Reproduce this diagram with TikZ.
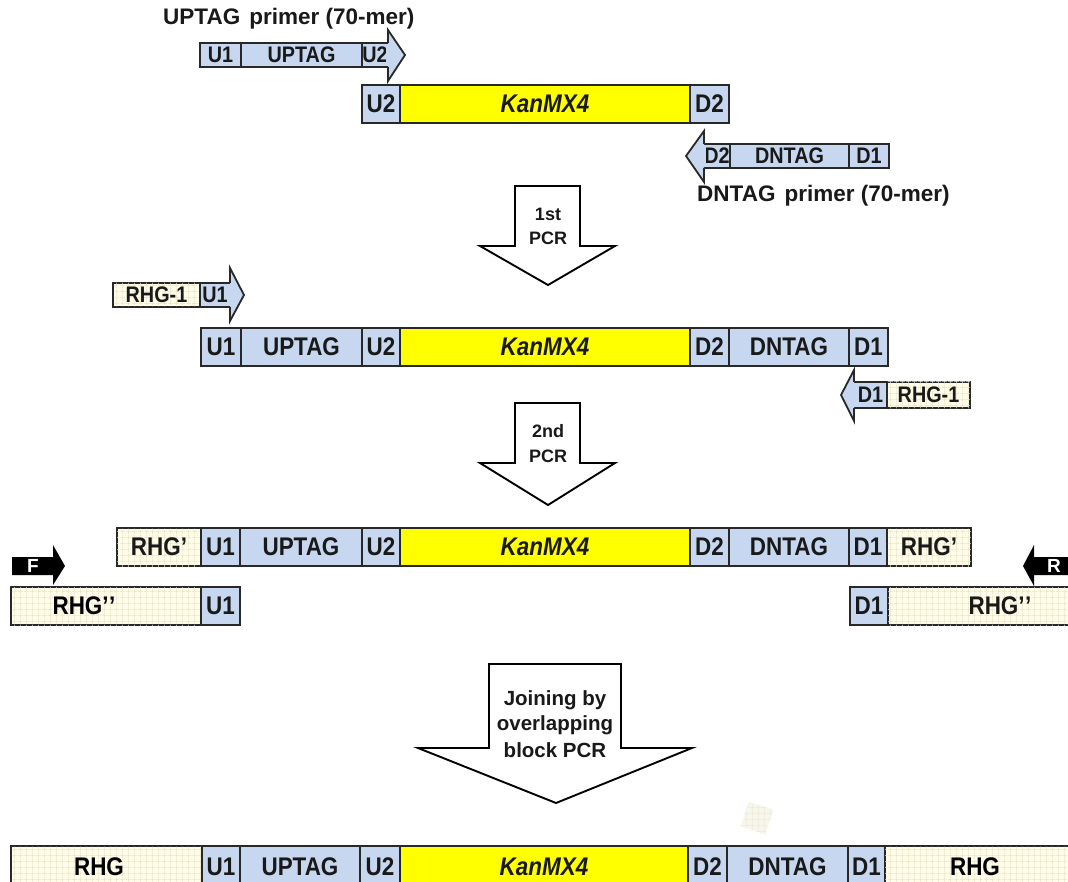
\documentclass[tikz,border=0pt]{standalone}
\usepackage{fontspec}
\setmainfont{Liberation Sans}
\newfontfamily\talllib[FakeStretch=0.88]{Liberation Sans}
\usetikzlibrary{patterns}
\definecolor{blu}{RGB}{198,215,239}
\definecolor{yel}{RGB}{255,255,0}
\definecolor{crm}{RGB}{255,252,232}
\definecolor{gridc}{RGB}{232,228,200}
\definecolor{edge}{RGB}{40,40,40}
\pgfdeclarepatternformonly{cgrid}{\pgfpointorigin}{\pgfpoint{6pt}{6pt}}{\pgfpoint{6pt}{6pt}}{%
  \pgfsetlinewidth{0.5pt}%
  \pgfpathmoveto{\pgfpoint{0pt}{3pt}}\pgfpathlineto{\pgfpoint{6pt}{3pt}}%
  \pgfpathmoveto{\pgfpoint{3pt}{0pt}}\pgfpathlineto{\pgfpoint{3pt}{6pt}}%
  \pgfusepath{stroke}}
\newcommand\myfbig{\talllib\fontsize{25.5}{27}\selectfont\bfseries}
\newcommand\myfsm{\talllib\fontsize{22.5}{24}\selectfont\bfseries}
\newcommand\myfttl{\fontsize{22.5}{24}\selectfont\bfseries}
\newcommand\myfarr{\fontsize{18}{20}\selectfont\bfseries}
\newcommand\myfjoin{\fontsize{20.5}{22}\selectfont\bfseries}
\newcommand\myfwt{\fontsize{19}{20}\selectfont\bfseries}
\tikzset{
  box/.style={draw=edge, line width=1.8, inner sep=0pt, outer sep=0pt, rectangle, text=black!90},
  bluebox/.style={fill=blu},
  yelbox/.style={fill=yel},
  crmbox/.style={fill=crm, postaction={pattern=cgrid, pattern color=gridc}},
  big/.style={font=\myfbig},
  sm/.style={font=\myfsm},
  ttl/.style={font=\myfttl, text=black!90, inner sep=0pt},
  arrtxt/.style={font=\myfarr, text=black!90, inner sep=0pt},
  jointxt/.style={font=\myfjoin, text=black!90, inner sep=0pt},
  bigarrow/.style={draw=black, line width=1.9, fill=white, line join=miter},
  headline/.style={draw=edge, line width=1.8},
  blackarrow/.style={fill=black},
  wtxt/.style={font=\myfwt, text=white, inner sep=0pt},
}
% name, x1, x2, y1, y2, style, text
\newcommand\seg[7]{\node[box,#6,minimum width={#3-#2},minimum height={#5-#4}] (#1) at ({(#2+#3)/2},{(#4+#5)/2}) {#7};}
% right-pointing head: xbase, ytop, ybot, headtop, headbot, tip
\newcommand\rhead[6]{%
  \fill[blu] ({#1-1.6},{#2+1}) rectangle ({#1+0.5},{#3-1});
  \filldraw[headline,fill=blu] (#1,#2) -- (#1,#4) -- (#6,{(#2+#3)/2}) -- (#1,#5) -- (#1,#3);}
% left-pointing head
\newcommand\lhead[6]{%
  \fill[blu] ({#1-0.5},{#2+1}) rectangle ({#1+1.6},{#3-1});
  \filldraw[headline,fill=blu] (#1,#2) -- (#1,#4) -- (#6,{(#2+#3)/2}) -- (#1,#5) -- (#1,#3);}
\begin{document}
\begin{tikzpicture}[x=1pt,y=-1pt]
\useasboundingbox (0,0) rectangle (1068,882);
\clip (0,0) rectangle (1068,882);
\fill[white] (0,0) rectangle (1068,882);

% ---- UPTAG primer
\node[ttl,anchor=west] (tA) at (163,19) {UPTAG\hspace{0.4em}primer (70-mer)};
\seg{aU1}{200}{241}{43}{67}{bluebox,sm}{U1}
\seg{aUP}{241}{362}{43}{67}{bluebox,sm}{UPTAG}
\seg{aU2}{362}{388}{43}{67}{bluebox,sm}{U2}
\rhead{388}{43}{67}{30}{81}{405}

% ---- KanMX4 template
\seg{bU2}{362}{400}{85}{123}{bluebox,big}{U2}
\seg{bK}{400}{690}{85}{123}{yelbox,big}{\itshape KanMX4}
\seg{bD2}{690}{729}{85}{123}{bluebox,big}{D2}

% ---- DNTAG primer
\seg{cD2}{704}{730}{144}{168}{bluebox,sm}{D2}
\seg{cDN}{730}{849}{144}{168}{bluebox,sm}{DNTAG}
\seg{cD1}{849}{889}{144}{168}{bluebox,sm}{D1}
\lhead{704}{144}{168}{131}{182}{686}
\node[ttl,anchor=west] (tC) at (697,196) {DNTAG\hspace{0.4em}primer (70-mer)};

% ---- 1st PCR arrow
\draw[bigarrow] (515,186) -- (580,186) -- (580,246) -- (615,246) -- (548,285) -- (480,246) -- (515,246) -- cycle;
\node[arrtxt] (p1a) at (548,214) {1st};
\node[arrtxt] (p1b) at (548,238) {PCR};

% ---- RHG-1 / U1 primer
\seg{dR}{113}{200}{283}{307}{crmbox,sm}{RHG-1}
\seg{dU1}{200}{230}{283}{307}{bluebox,sm}{U1}
\rhead{230}{283}{307}{268}{321}{244}

% ---- 1st PCR product
\seg{eU1}{201}{241}{328}{366}{bluebox,big}{U1}
\seg{eUP}{241}{362}{328}{366}{bluebox,big}{UPTAG}
\seg{eU2}{362}{400}{328}{366}{bluebox,big}{U2}
\seg{eK}{400}{690}{328}{366}{yelbox,big}{\itshape KanMX4}
\seg{eD2}{690}{729}{328}{366}{bluebox,big}{D2}
\seg{eDN}{729}{849}{328}{366}{bluebox,big}{DNTAG}
\seg{eD1}{849}{888}{328}{366}{bluebox,big}{D1}

% ---- D1 / RHG-1 primer
\seg{fD1}{854}{887}{382}{408}{bluebox,sm}{D1}
\seg{fR}{887}{970}{382}{408}{crmbox,sm}{RHG-1}
\lhead{854}{382}{408}{370}{421}{841}

% ---- 2nd PCR arrow
\draw[bigarrow] (515,403) -- (580,403) -- (580,463) -- (615,463) -- (548,505) -- (480,463) -- (515,463) -- cycle;
\node[arrtxt] (p2a) at (548,431) {2nd};
\node[arrtxt] (p2b) at (548,456) {PCR};

% ---- 2nd PCR product
\seg{gR1}{117}{201}{528}{566}{crmbox,big}{RHG’}
\seg{gU1}{201}{240}{528}{566}{bluebox,big}{U1}
\seg{gUP}{240}{362}{528}{566}{bluebox,big}{UPTAG}
\seg{gU2}{362}{400}{528}{566}{bluebox,big}{U2}
\seg{gK}{400}{690}{528}{566}{yelbox,big}{\itshape KanMX4}
\seg{gD2}{690}{729}{528}{566}{bluebox,big}{D2}
\seg{gDN}{729}{849}{528}{566}{bluebox,big}{DNTAG}
\seg{gD1}{849}{887}{528}{566}{bluebox,big}{D1}
\seg{gR2}{887}{971}{528}{566}{crmbox,big}{RHG’}

% ---- flanking fragments
\seg{hR1}{11}{201}{587}{625}{crmbox,big}{}
\node[big,inner sep=0pt] (hR1t) at (84,606) {RHG’\kern0.5pt’};
\seg{hU1}{201}{240}{587}{625}{bluebox,big}{U1}
\seg{hD1}{850}{888}{587}{625}{bluebox,big}{D1}
\seg{hR2}{888}{1112}{587}{625}{crmbox,big}{RHG’\kern0.5pt’}

% ---- F and R primers
\fill[blackarrow] (12,557) -- (53,557) -- (53,545) -- (65,566) -- (53,585) -- (53,575) -- (12,575) -- cycle;
\node[wtxt] (F) at (33,566) {F};
\fill[blackarrow] (1072,557) -- (1034,557) -- (1034,545) -- (1023,566) -- (1034,586) -- (1034,575) -- (1072,575) -- cycle;
\node[wtxt] (R) at (1054,566) {R};

% ---- joining arrow
\draw[bigarrow] (489,664) -- (621,664) -- (621,748) -- (692,748) -- (556,803) -- (418,748) -- (489,748) -- cycle;
\node[jointxt] (j1) at (555,700) {Joining by};
\node[jointxt] (j2) at (555,725) {overlapping};
\node[jointxt] (j3) at (555,750) {block PCR};

% faint grid fleck
\node[rotate=-18, minimum size=26, inner sep=0pt, fill=gridc!35, postaction={pattern=cgrid, pattern color=gridc!80}] (fleck) at (757,818) {};

% ---- final product
\seg{iR1}{11}{202}{846}{888}{crmbox,big}{}
\node[big,inner sep=0pt] (iR1t) at (99,867) {RHG};
\seg{iU1}{202}{240}{846}{888}{bluebox,big}{U1}
\seg{iUP}{240}{360}{846}{888}{bluebox,big}{UPTAG}
\seg{iU2}{360}{400}{846}{888}{bluebox,big}{U2}
\seg{iK}{400}{688}{846}{888}{yelbox,big}{\itshape KanMX4}
\seg{iD2}{688}{727}{846}{888}{bluebox,big}{D2}
\seg{iDN}{727}{848}{846}{888}{bluebox,big}{DNTAG}
\seg{iD1}{848}{885}{846}{888}{bluebox,big}{D1}
\seg{iR2}{885}{1075}{846}{888}{crmbox,big}{}
\node[big,inner sep=0pt] (iR2t) at (975,867) {RHG};
\end{tikzpicture}
\end{document}
